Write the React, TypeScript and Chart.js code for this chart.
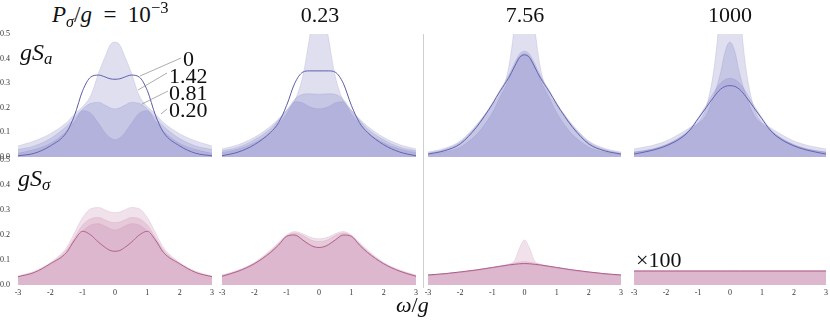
import React, { useEffect, useRef } from "react";
import { Chart, registerables } from "chart.js";
Chart.register(...registerables);

// ---------- data ----------
const X_GRID = [-3, -2.5, -2, -1.5, -1.25, -1, -0.75, -0.5, -0.3, -0.15, 0, 0.15, 0.3, 0.5, 0.75, 1, 1.25, 1.5, 2, 2.5, 3];
const X_TICKS = [-3, -2, -1, 0, 1, 2, 3];
const Y_TICKS = [0, 0.1, 0.2, 0.3, 0.4, 0.5];
const COL_TITLES = ["0.23", "7.56", "1000"];
const CURVE_LABELS = ["0", "1.42", "0.81", "0.20"];

// gS_a, P_sigma/g = 1e-3
const SA0_LINE = [0.005, 0.015, 0.045, 0.1, 0.17, 0.27, 0.325, 0.333, 0.325, 0.318, 0.316, 0.318, 0.325, 0.333, 0.325, 0.27, 0.17, 0.1, 0.045, 0.015, 0.005];
const SA0_F1 = [0.045, 0.065, 0.095, 0.14, 0.175, 0.205, 0.25, 0.345, 0.41, 0.455, 0.467, 0.455, 0.41, 0.345, 0.25, 0.205, 0.175, 0.14, 0.095, 0.065, 0.045];
const SA0_F2 = [0.03, 0.045, 0.075, 0.125, 0.16, 0.195, 0.218, 0.222, 0.21, 0.2, 0.195, 0.2, 0.21, 0.222, 0.218, 0.195, 0.16, 0.125, 0.075, 0.045, 0.03];
const SA0_F3 = [0.015, 0.03, 0.055, 0.105, 0.145, 0.188, 0.178, 0.135, 0.098, 0.078, 0.07, 0.078, 0.098, 0.135, 0.178, 0.188, 0.145, 0.105, 0.055, 0.03, 0.015];

// gS_a, 0.23
const SA1_LINE = [0.005, 0.02, 0.05, 0.1, 0.14, 0.21, 0.3, 0.345, 0.35, 0.35, 0.35, 0.35, 0.35, 0.345, 0.3, 0.21, 0.14, 0.1, 0.05, 0.02, 0.005];
const SA1_F1 = [0.033, 0.05, 0.08, 0.125, 0.155, 0.19, 0.23, 0.33, 0.48, 0.6, 0.65, 0.6, 0.48, 0.33, 0.23, 0.19, 0.155, 0.125, 0.08, 0.05, 0.033];
const SA1_F2 = [0.025, 0.04, 0.07, 0.115, 0.15, 0.19, 0.235, 0.255, 0.257, 0.256, 0.255, 0.256, 0.257, 0.255, 0.235, 0.19, 0.15, 0.115, 0.07, 0.04, 0.025];
const SA1_F3 = [0.018, 0.032, 0.058, 0.1, 0.135, 0.175, 0.225, 0.22, 0.205, 0.198, 0.196, 0.198, 0.205, 0.22, 0.225, 0.175, 0.135, 0.1, 0.058, 0.032, 0.018];

// gS_a, 7.56
const SA2_LINE = [0.012, 0.025, 0.053, 0.12, 0.165, 0.215, 0.27, 0.32, 0.37, 0.405, 0.415, 0.405, 0.37, 0.32, 0.27, 0.215, 0.165, 0.12, 0.053, 0.025, 0.012];
const SA2_F1 = [0.02, 0.035, 0.065, 0.13, 0.17, 0.21, 0.26, 0.36, 0.56, 0.85, 1.0, 0.85, 0.56, 0.36, 0.26, 0.21, 0.17, 0.13, 0.065, 0.035, 0.02];
const SA2_F2 = [0.015, 0.03, 0.06, 0.125, 0.17, 0.22, 0.275, 0.33, 0.385, 0.42, 0.43, 0.42, 0.385, 0.33, 0.275, 0.22, 0.17, 0.125, 0.06, 0.03, 0.015];
const SA2_F3 = [0.01, 0.02, 0.04, 0.09, 0.13, 0.18, 0.245, 0.31, 0.375, 0.41, 0.42, 0.41, 0.375, 0.31, 0.245, 0.18, 0.13, 0.09, 0.04, 0.02, 0.01];

// gS_a, 1000
const SA3_LINE = [0.012, 0.025, 0.045, 0.08, 0.11, 0.155, 0.2, 0.245, 0.275, 0.287, 0.29, 0.287, 0.275, 0.245, 0.2, 0.155, 0.11, 0.08, 0.045, 0.025, 0.012];
const SA3_F1 = [0.033, 0.045, 0.065, 0.1, 0.12, 0.14, 0.2, 0.36, 0.6, 0.8, 0.9, 0.8, 0.6, 0.36, 0.2, 0.14, 0.12, 0.1, 0.065, 0.045, 0.033];
const SA3_F2 = [0.02, 0.03, 0.05, 0.085, 0.11, 0.135, 0.17, 0.25, 0.34, 0.43, 0.467, 0.43, 0.34, 0.25, 0.17, 0.135, 0.11, 0.085, 0.05, 0.03, 0.02];
const SA3_F3 = [0.02, 0.03, 0.05, 0.085, 0.115, 0.16, 0.21, 0.265, 0.3, 0.315, 0.32, 0.315, 0.3, 0.265, 0.21, 0.16, 0.115, 0.085, 0.05, 0.03, 0.02];

// gS_sigma, 1e-3
const SS0_LINE = [0.033, 0.05, 0.085, 0.13, 0.18, 0.215, 0.2, 0.17, 0.15, 0.138, 0.135, 0.138, 0.15, 0.17, 0.2, 0.215, 0.18, 0.13, 0.085, 0.05, 0.033];
const SS0_F1 = [0.036, 0.055, 0.09, 0.15, 0.21, 0.27, 0.305, 0.31, 0.3, 0.292, 0.29, 0.292, 0.3, 0.31, 0.305, 0.27, 0.21, 0.15, 0.09, 0.055, 0.036];
const SS0_F2 = [0.03, 0.05, 0.085, 0.14, 0.19, 0.24, 0.265, 0.27, 0.26, 0.252, 0.25, 0.252, 0.26, 0.27, 0.265, 0.24, 0.19, 0.14, 0.085, 0.05, 0.03];
const SS0_F3 = [0.025, 0.045, 0.08, 0.13, 0.175, 0.215, 0.24, 0.245, 0.235, 0.225, 0.22, 0.225, 0.235, 0.245, 0.24, 0.215, 0.175, 0.13, 0.08, 0.045, 0.025];

// gS_sigma, 0.23
const SS1_LINE = [0.035, 0.055, 0.085, 0.13, 0.16, 0.195, 0.2, 0.18, 0.162, 0.153, 0.15, 0.153, 0.162, 0.18, 0.2, 0.195, 0.16, 0.13, 0.085, 0.055, 0.035];
const SS1_F1 = [0.04, 0.06, 0.09, 0.14, 0.17, 0.2, 0.214, 0.205, 0.193, 0.187, 0.185, 0.187, 0.193, 0.205, 0.214, 0.2, 0.17, 0.14, 0.09, 0.06, 0.04];
const SS1_F2 = [0.037, 0.057, 0.087, 0.135, 0.165, 0.196, 0.208, 0.198, 0.183, 0.176, 0.174, 0.176, 0.183, 0.198, 0.208, 0.196, 0.165, 0.135, 0.087, 0.057, 0.037];
const SS1_F3 = [0.035, 0.055, 0.085, 0.13, 0.16, 0.193, 0.198, 0.178, 0.16, 0.152, 0.15, 0.152, 0.16, 0.178, 0.198, 0.193, 0.16, 0.13, 0.085, 0.055, 0.035];

// gS_sigma, 7.56
const SS2_LINE = [0.04, 0.045, 0.052, 0.06, 0.065, 0.07, 0.075, 0.08, 0.083, 0.085, 0.086, 0.085, 0.083, 0.08, 0.075, 0.07, 0.065, 0.06, 0.052, 0.045, 0.04];
const SS2_F1 = [0.038, 0.044, 0.051, 0.06, 0.065, 0.07, 0.075, 0.082, 0.1, 0.15, 0.18, 0.15, 0.1, 0.082, 0.075, 0.07, 0.065, 0.06, 0.051, 0.044, 0.038];
const SS2_F2 = [0.04, 0.045, 0.053, 0.061, 0.066, 0.071, 0.077, 0.083, 0.088, 0.092, 0.094, 0.092, 0.088, 0.083, 0.077, 0.071, 0.066, 0.061, 0.053, 0.045, 0.04];
const SS2_F3 = [0.038, 0.043, 0.05, 0.058, 0.063, 0.068, 0.073, 0.078, 0.081, 0.083, 0.084, 0.083, 0.081, 0.078, 0.073, 0.068, 0.063, 0.058, 0.05, 0.043, 0.038];

// gS_sigma, 1000 (x100)
const SS3_LINE = [0.056, 0.056, 0.056, 0.056, 0.056, 0.056, 0.056, 0.056, 0.056, 0.056, 0.056, 0.056, 0.056, 0.056, 0.056, 0.056, 0.056, 0.056, 0.056, 0.056, 0.056];
const SS3_F1 = [0.056, 0.056, 0.056, 0.056, 0.056, 0.056, 0.056, 0.056, 0.056, 0.056, 0.056, 0.056, 0.056, 0.056, 0.056, 0.056, 0.056, 0.056, 0.056, 0.056, 0.056];
const SS3_F2 = [0.055, 0.055, 0.055, 0.055, 0.055, 0.055, 0.055, 0.055, 0.055, 0.055, 0.055, 0.055, 0.055, 0.055, 0.055, 0.055, 0.055, 0.055, 0.055, 0.055, 0.055];
const SS3_F3 = [0.055, 0.055, 0.055, 0.055, 0.055, 0.055, 0.055, 0.055, 0.055, 0.055, 0.055, 0.055, 0.055, 0.055, 0.055, 0.055, 0.055, 0.055, 0.055, 0.055, 0.055];

// ---------- layout / style ----------
const SERIF = "'Liberation Serif', 'DejaVu Serif', serif";
const COLS = [
  [18, 212],
  [222, 416],
  [428, 621],
  [634, 826],
];
const ROWS = [
  [34, 157],
  [160, 285],
];
const Y_AXIS_W = 18;
const PAD_T = 6;
const PAD_R = 6;

const BLUE = { fill: "rgba(110,110,185,0.22)", edge: "rgba(110,110,185,0.28)", line: "#5a5aa8" };
const PINK = { fill: "rgba(190,120,160,0.22)", edge: "rgba(190,120,160,0.3)", line: "#a24a7a" };

type PanelProps = {
  col: number;
  row: number;
  fills: number[][];
  line: number[];
  colors: { fill: string; edge: string; line: string };
};

function Panel({ col, row, fills, line, colors }: PanelProps) {
  const ref = useRef<HTMLCanvasElement>(null);
  const [x0, x1] = COLS[col];
  const [y0, y1] = ROWS[row];
  const showY = col === 0;
  const showX = row === 1;
  const xAxisH = showX ? 16 : 6;
  const cw = Y_AXIS_W + (x1 - x0) + PAD_R;
  const ch = PAD_T + (y1 - y0) + xAxisH;

  useEffect(() => {
    const pts = (ys: number[]) => X_GRID.map((x, i) => ({ x, y: ys[i] }));
    const fillSets = fills.map((s) => ({
      data: pts(s),
      fill: "origin",
      backgroundColor: colors.fill,
      borderColor: colors.edge,
      borderWidth: 0.6,
      pointRadius: 0,
      cubicInterpolationMode: "monotone" as const,
    }));
    const lineSet = {
      data: pts(line),
      fill: false,
      borderColor: colors.line,
      borderWidth: 1,
      pointRadius: 0,
      cubicInterpolationMode: "monotone" as const,
    };
    const tickFont = { family: SERIF, size: 8 };
    const chart = new Chart(ref.current as HTMLCanvasElement, {
      type: "line",
      data: { datasets: [...fillSets, lineSet] as any },
      options: {
        animation: false,
        responsive: false,
        events: [],
        layout: { padding: { top: PAD_T, right: PAD_R, left: 0, bottom: 0 } },
        plugins: { legend: { display: false }, tooltip: { enabled: false } },
        scales: {
          x: {
            type: "linear",
            min: -3,
            max: 3,
            afterFit: (s: any) => {
              s.height = xAxisH;
            },
            afterBuildTicks: (s: any) => {
              s.ticks = X_TICKS.map((v) => ({ value: v }));
            },
            ticks: {
              display: showX,
              font: tickFont,
              color: "#333",
              padding: 3,
              maxRotation: 0,
              autoSkip: false,
              callback: (v: any) => String(v),
            },
            grid: { display: false, drawTicks: false },
            border: { display: false },
          },
          y: {
            min: 0,
            max: 0.5,
            afterFit: (s: any) => {
              s.width = Y_AXIS_W;
            },
            afterBuildTicks: (s: any) => {
              s.ticks = Y_TICKS.map((v) => ({ value: v }));
            },
            ticks: {
              display: showY,
              font: tickFont,
              color: "#333",
              padding: 0,
              crossAlign: "far",
              autoSkip: false,
              callback: (v: any) => Number(v).toFixed(1),
            },
            grid: { display: false, drawTicks: false },
            border: { display: false },
          },
        },
      } as any,
    });
    return () => chart.destroy();
  }, []);

  return (
    <canvas
      ref={ref}
      width={cw}
      height={ch}
      style={{ position: "absolute", left: x0 - Y_AXIS_W, top: y0 - PAD_T, width: cw, height: ch }}
    />
  );
}

const txt = (left: number, top: number, size: number, extra: any = {}) => ({
  position: "absolute" as const,
  left,
  top,
  fontSize: size,
  lineHeight: "1",
  whiteSpace: "nowrap" as const,
  fontFamily: SERIF,
  color: "#111",
  ...extra,
});

export default function App() {
  const top = [
    { fills: [SA0_F1, SA0_F2, SA0_F3], line: SA0_LINE },
    { fills: [SA1_F1, SA1_F2, SA1_F3], line: SA1_LINE },
    { fills: [SA2_F1, SA2_F2, SA2_F3], line: SA2_LINE },
    { fills: [SA3_F1, SA3_F2, SA3_F3], line: SA3_LINE },
  ];
  const bottom = [
    { fills: [SS0_F1, SS0_F2, SS0_F3], line: SS0_LINE },
    { fills: [SS1_F1, SS1_F2, SS1_F3], line: SS1_LINE },
    { fills: [SS2_F1, SS2_F2, SS2_F3], line: SS2_LINE },
    { fills: [SS3_F1, SS3_F2, SS3_F3], line: SS3_LINE },
  ];
  const titleCenters = [320, 525, 730];
  const labelPos = [
    [183, 48],
    [169, 64.5],
    [169, 81.5],
    [169, 98.5],
  ];
  return (
    <div style={{ position: "absolute", left: 0, top: 0, width: 830, height: 320, background: "#fff", overflow: "hidden" }}>
      <div style={{ position: "absolute", left: 423, top: 34, width: 1, height: 254, background: "#cfcfcf" }} />
      {top.map((p, i) => (
        <Panel key={"t" + i} col={i} row={0} fills={p.fills} line={p.line} colors={BLUE} />
      ))}
      {bottom.map((p, i) => (
        <Panel key={"b" + i} col={i} row={1} fills={p.fills} line={p.line} colors={PINK} />
      ))}

      {/* column titles */}
      <div style={txt(52, 2.5, 23)}>
        <i>P</i>
        <i style={{ fontSize: "0.7em", position: "relative", top: "0.35em" }}>σ</i>
        <span>/</span>
        <i>g</i>
        <span>{"\u2002=\u200210"}</span>
        <span style={{ fontSize: "0.72em", position: "relative", top: "-0.5em" }}>−3</span>
      </div>
      {COL_TITLES.map((t, i) => (
        <div key={t} style={txt(titleCenters[i], 3.5, 22, { transform: "translateX(-50%)" })}>
          {t}
        </div>
      ))}

      {/* row labels */}
      <div style={txt(20, 40, 24)}>
        <i>gS</i>
        <i style={{ fontSize: "0.7em", position: "relative", top: "0.25em" }}>a</i>
      </div>
      <div style={txt(18, 166, 24)}>
        <i>gS</i>
        <i style={{ fontSize: "0.7em", position: "relative", top: "0.25em" }}>σ</i>
      </div>
      <div style={txt(396, 294, 22)}>
        <i>ω</i>/<i>g</i>
      </div>
      <div style={txt(636, 248.5, 22)}>×100</div>

      {/* curve labels */}
      {CURVE_LABELS.map((t, i) => (
        <div key={t} style={txt(labelPos[i][0], labelPos[i][1], 22)}>
          {t}
        </div>
      ))}
      <svg width={830} height={320} style={{ position: "absolute", left: 0, top: 0 }}>
        <g stroke="#8a8a8a" strokeWidth={0.7} fill="none">
          <line x1={181} y1={58} x2={140} y2={76} />
          <line x1={167} y1={73} x2={138} y2={90} />
          <line x1={168} y1={91} x2={142} y2={104} />
          <line x1={167} y1={109} x2={161} y2={114} />
        </g>
      </svg>
    </div>
  );
}
